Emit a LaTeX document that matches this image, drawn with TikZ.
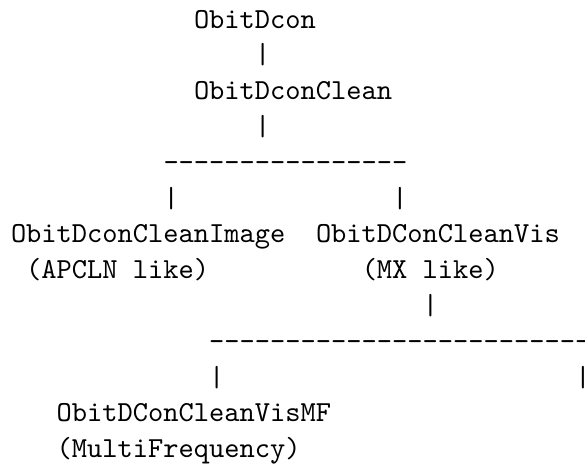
\documentclass[tikz,border=0pt]{standalone}
\def\hy{-\kern0pt}
\tikzset{asc/.style={anchor=base west, inner sep=0pt, outer sep=0pt, font=\ttfamily, scale=1.452}}
\begin{document}
\begin{tikzpicture}[x=0.5pt,y=-0.5pt]
\fill[white] (0,0) rectangle (585,468);
\useasboundingbox (0,0) rectangle (585,468);
% row 0
\node[asc] (dcon) at (194,28) {ObitDcon};
% row 1
\node[asc] (bar1) at (255,63.8) {|};
% row 2
\node[asc] (clean) at (194,99.6) {ObitDconClean};
% row 3
\node[asc] (bar3) at (255,135.4) {|};
% row 4
\node[asc] (dash4) at (163.5,171.2) {\hy\hy\hy\hy\hy\hy\hy\hy\hy\hy\hy\hy\hy\hy\hy\hy};
% row 5
\node[asc] (bar5l) at (163.5,207) {|};
\node[asc] (bar5r) at (392.25,207) {|};
% row 6
\node[asc] (img) at (11,242.8) {ObitDconCleanImage};
\node[asc] (vis) at (316,242.8) {ObitDConCleanVis};
% row 7
\node[asc] (imgnote) at (26.25,278.6) {(APCLN like)};
\node[asc] (visnote) at (361.75,278.6) {(MX like)};
% row 8
\node[asc] (bar8) at (422.75,314.4) {|};
% row 9
\node[asc] (dash9) at (209.25,350.2) {\hy\hy\hy\hy\hy\hy\hy\hy\hy\hy\hy\hy\hy\hy\hy\hy\hy\hy\hy\hy\hy\hy\hy\hy\hy\hy\hy};
% row 10
\node[asc] (bar10l) at (209.25,386) {|};
\node[asc] (bar10r) at (575.25,386) {|};
% row 11
\node[asc] (mf) at (56.75,421.8) {ObitDConCleanVisMF};
% row 12
\node[asc] (mfnote) at (56.75,457.6) {(MultiFrequency)};
\end{tikzpicture}
\end{document}
